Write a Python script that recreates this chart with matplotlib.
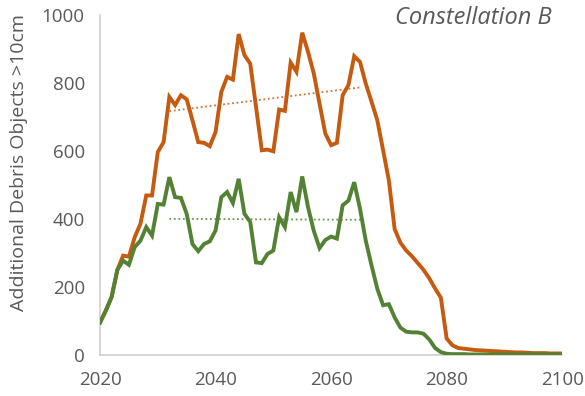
import numpy as np
import matplotlib
matplotlib.use("Agg")
import matplotlib.pyplot as plt

# Constellation B: additional debris objects >10cm, two scenarios
years = np.arange(2020, 2101)

orange_vals = [
    95, 130, 170, 250, 292, 289, 346, 386, 469, 469,
    597, 626, 759, 735, 764, 752, 690, 626, 624, 614,
    656, 774, 818, 810, 944, 882, 857, 730, 602, 604,
    599, 722, 718, 860, 833, 948, 892, 828, 739, 651,
    617, 624, 764, 794, 879, 862, 798, 745, 690, 602,
    513, 370, 330, 307, 290, 270, 250, 225, 195, 168,
    48, 28, 20, 18, 16, 14, 13, 12, 11, 10,
    9, 8, 7, 7, 6, 5, 5, 5, 4, 4,
    4,
]

green_vals = [
    95, 130, 170, 250, 277, 265, 317, 336, 376, 351,
    444, 442, 523, 464, 462, 415, 326, 305, 326, 334,
    366, 464, 479, 447, 518, 415, 391, 272, 270, 297,
    307, 405, 376, 479, 420, 525, 435, 365, 314, 338,
    348, 342, 440, 454, 508, 430, 336, 263, 194, 146,
    149, 110, 80, 68, 66, 66, 62, 45, 20, 8,
    3, 2, 2, 2, 1, 1, 1, 1, 1, 1,
    1, 1, 1, 1, 1, 1, 1, 1, 1, 1,
    1,
]

trend_start, trend_end = 2032, 2065

ORANGE = "#C55A11"
GREEN = "#548235"
TEXT = "#595959"
AXIS = "#D0D0D0"


def main():
    plt.rcParams["font.family"] = ["Open Sans", "DejaVu Sans"]

    orange = np.array(orange_vals, dtype=float)
    green = np.array(green_vals, dtype=float)

    fig = plt.figure(figsize=(5.85, 3.96), dpi=100)
    ax = fig.add_axes([0.171, 0.104, 0.79, 0.858])

    ax.plot(years, orange, color=ORANGE, lw=2.8, solid_joinstyle="miter", zorder=3)
    ax.plot(years, green, color=GREEN, lw=2.8, solid_joinstyle="miter", zorder=3)

    # linear trend lines over the constellation period
    mask = (years >= trend_start) & (years <= trend_end)
    xt = years[mask]
    for vals, col in ((orange, ORANGE), (green, GREEN)):
        k, b = np.polyfit(xt, vals[mask], 1)
        ax.plot(xt, k * xt + b, color=col, lw=1.3, ls=(0, (1, 1.5)), alpha=0.85, zorder=2)

    ax.set_xlim(2020, 2100)
    ax.set_ylim(0, 1000)
    ax.set_xticks(np.arange(2020, 2101, 20))
    ax.set_yticks(np.arange(0, 1001, 200))
    ax.tick_params(length=0, labelsize=13.5, colors=TEXT)
    ax.tick_params(axis="x", pad=12)
    ax.tick_params(axis="y", pad=11)

    for s in ("top", "right"):
        ax.spines[s].set_visible(False)
    for s in ("left", "bottom"):
        ax.spines[s].set_color(AXIS)
        ax.spines[s].set_linewidth(1.2)

    ax.set_ylabel("Additional Debris Objects >10cm", fontsize=14, color=TEXT)
    ax.yaxis.set_label_coords(-0.155, 0.565)
    fig.text(552 / 585, 1 - 18 / 396, "Constellation B", ha="right", va="center",
             fontsize=17, style="italic", color=TEXT)

    fig.savefig("out.png", dpi=100)


if __name__ == "__main__":
    main()
